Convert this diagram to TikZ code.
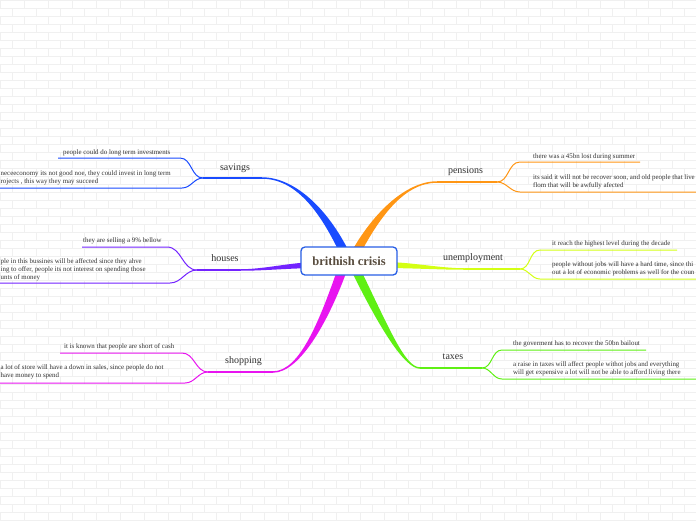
\documentclass[tikz,border=0pt]{standalone}
\usepackage{fontspec}
\setmainfont{Liberation Serif}
\usetikzlibrary{calc}
\definecolor{savc}{RGB}{25,75,255}
\definecolor{houc}{RGB}{115,35,255}
\definecolor{shoc}{RGB}{232,20,240}
\definecolor{penc}{RGB}{255,150,20}
\definecolor{unec}{RGB}{212,255,20}
\definecolor{taxc}{RGB}{95,240,20}
\definecolor{txt}{RGB}{50,50,50}
\definecolor{roottxt}{RGB}{88,76,62}
\definecolor{rootbd}{RGB}{40,95,230}
\definecolor{brick}{RGB}{240,240,240}
% color, J, c1, c2, S, half width at J, signed half width at S
\newcommand\mmVtaper[7]{%
  \fill[#1] ($(#2)+(0,-#6)$) .. controls ($(#3)+(0,-#6)$) and ($(#4)+(#7,0)$) .. ($(#5)+(#7,0)$)
    -- ($(#5)-(#7,0)$) .. controls ($(#4)-(#7,0)$) and ($(#3)+(0,#6)$) .. ($(#2)+(0,#6)$) -- cycle;}
\newcommand\mmHtaper[7]{%
  \fill[#1] ($(#2)+(0,-#6)$) .. controls ($(#3)+(0,-#6)$) and ($(#4)+(0,-#7)$) .. ($(#5)+(0,-#7)$)
    -- ($(#5)+(0,#7)$) .. controls ($(#4)+(0,#7)$) and ($(#3)+(0,#6)$) .. ($(#2)+(0,#6)$) -- cycle;}
\tikzset{
  lbl/.style={font=\fontsize{10}{12}\selectfont, text=txt, inner sep=0pt, anchor=base},
  leaf/.style={font=\fontsize{6.9}{8}\selectfont, text=txt, inner sep=0pt, anchor=base west},
  leafm/.style={font=\fontsize{6.9}{8}\selectfont, text=txt, inner sep=0pt, anchor=north west, align=left},
  conn/.style={line width=1pt},
  stem/.style={line width=1.4pt},
}
\begin{document}
\begin{tikzpicture}[x=1pt,y=-1pt]
\useasboundingbox (0,0) rectangle (696,520);
\begin{scope}
\clip (0,0) rectangle (696,520);
\fill[white] (0,0) rectangle (696,520);
\foreach \r in {0,...,65} {
  \draw[brick,line width=0.6pt] (0,\r*8) -- (696,\r*8);
  \pgfmathsetmacro\off{mod(\r,2)*12}
  \foreach \k in {0,...,29} \draw[brick,line width=0.6pt] ({\k*24+\off},\r*8) -- ({\k*24+\off},\r*8+8);
}

% savings
\coordinate (savS) at (347,258); \coordinate (savJ) at (262,178); \coordinate (savK) at (203,178);
\coordinate (savA) at (180,158); \coordinate (savAe) at (58,158);
\coordinate (savB) at (182,188); \coordinate (savBe) at (-5,188);
\mmVtaper{savc}{savJ}{295,178}{325,210}{savS}{0.75}{5}
\draw[savc,stem] (savK) -- (savJ);
\draw[savc,conn] (savK) to[out=180,in=0] (savA) -- (savAe);
\draw[savc,conn] (savK) to[out=180,in=0] (savB) -- (savBe);
\node[lbl] (sav) at (235,170) {savings};
\node[leaf] (sav1) at (63,154) {people could do long term investments};
\node[leafm] (sav2) at (0.5,170.3) {neceeconomy its not good noe, they could invest in long term\\rojects , this way they may succeed};

% houses
\coordinate (houS) at (318,265); \coordinate (houJ) at (240,270); \coordinate (houK) at (197,270);
\coordinate (houA) at (167,247); \coordinate (houAe) at (82,247);
\coordinate (houB) at (170,283); \coordinate (houBe) at (-5,283);
\mmHtaper{houc}{houJ}{265,270}{292,265}{houS}{0.75}{3}
\draw[houc,stem] (houK) -- (houJ);
\draw[houc,conn] (houK) to[out=180,in=0] (houA) -- (houAe);
\draw[houc,conn] (houK) to[out=180,in=0] (houB) -- (houBe);
\node[lbl] (hou) at (225,261.5) {houses};
\node[leaf] (hou1) at (83,242) {they are selling a 9\% bellow};
\node[leafm] (hou2) at (0.5,258.3) {ple in this bussines will be affected since they ahve\\ing to offer, people its not interest on spending those\\unts of money};

% shopping
\coordinate (shoS) at (345,262); \coordinate (shoJ) at (273,372); \coordinate (shoK) at (208,372);
\coordinate (shoA) at (182,353); \coordinate (shoAe) at (60,353);
\coordinate (shoB) at (185,383); \coordinate (shoBe) at (-5,383);
\mmVtaper{shoc}{shoJ}{300,372}{325,320}{shoS}{0.75}{-5}
\draw[shoc,stem] (shoK) -- (shoJ);
\draw[shoc,conn] (shoK) to[out=180,in=0] (shoA) -- (shoAe);
\draw[shoc,conn] (shoK) to[out=180,in=0] (shoB) -- (shoBe);
\node[lbl] (sho) at (243.5,363.5) {shopping};
\node[leaf] (sho1) at (64,348) {it is known that people are short of cash};
\node[leafm] (sho2) at (0.5,364.3) {a lot of store will have a down in sales, since people do not\\have money to spend};

% pensions
\coordinate (penS) at (352,260); \coordinate (penJ) at (437,182); \coordinate (penK) at (497,182);
\coordinate (penA) at (520,162); \coordinate (penAe) at (640,162);
\coordinate (penB) at (520,192); \coordinate (penBe) at (700,192);
\mmVtaper{penc}{penJ}{405,182}{375,215}{penS}{0.75}{-5}
\draw[penc,stem] (penJ) -- (penK);
\draw[penc,conn] (penK) to[out=0,in=180] (penA) -- (penAe);
\draw[penc,conn] (penK) to[out=0,in=180] (penB) -- (penBe);
\node[lbl] (pen) at (465.5,173.5) {pensions};
\node[leaf] (pen1) at (533,158) {there was a 45bn lost during summer};
\node[leafm] (pen2) at (533,174.3) {its said it will not be recover soon, and old people that live\\flom that will be awfully afected};

% unemployment
\coordinate (uneS) at (385,265); \coordinate (uneJ) at (465,269); \coordinate (uneK) at (520,269);
\coordinate (uneA) at (540,250); \coordinate (uneAe) at (677,250);
\coordinate (uneB) at (540,279); \coordinate (uneBe) at (700,279);
\mmHtaper{unec}{uneJ}{440,269}{410,265}{uneS}{0.75}{3}
\draw[unec,stem] (uneJ) -- (uneK);
\draw[unec,conn] (uneK) to[out=0,in=180] (uneA) -- (uneAe);
\draw[unec,conn] (uneK) to[out=0,in=180] (uneB) -- (uneBe);
\node[lbl] (une) at (473,260.5) {unemployment};
\node[leaf] (une1) at (552,245) {it reach the highest level during the decade};
\node[leafm] (une2) at (552,261.3) {people without jobs will have a hard time, since thi\\out a lot of economic problems as well for the coun};

% taxes
\coordinate (taxS) at (352,262); \coordinate (taxJ) at (420,368); \coordinate (taxK) at (482,368);
\coordinate (taxA) at (502,350); \coordinate (taxAe) at (646,350);
\coordinate (taxB) at (502,379); \coordinate (taxBe) at (700,379);
\mmVtaper{taxc}{taxJ}{405,368}{385,330}{taxS}{0.75}{5}
\draw[taxc,stem] (taxJ) -- (taxK);
\draw[taxc,conn] (taxK) to[out=0,in=180] (taxA) -- (taxAe);
\draw[taxc,conn] (taxK) to[out=0,in=180] (taxB) -- (taxBe);
\node[lbl] (tax) at (453,359.5) {taxes};
\node[leaf] (tax1) at (513,345) {the goverment has to recover the 50bn bailout};
\node[leafm] (tax2) at (513,361.3) {a raise in taxes will affect people withot jobs and everything\\will get expensive a lot will not be able to afford living there};

% root
\node[draw=rootbd, line width=1.3pt, fill=white, rounded corners=4pt, minimum width=96pt,
      minimum height=28pt, inner sep=0pt, font=\bfseries\fontsize{12.5}{14}\selectfont, text=roottxt]
      (root) at (349,261) {brithish crisis};
\end{scope}
\end{tikzpicture}
\end{document}
